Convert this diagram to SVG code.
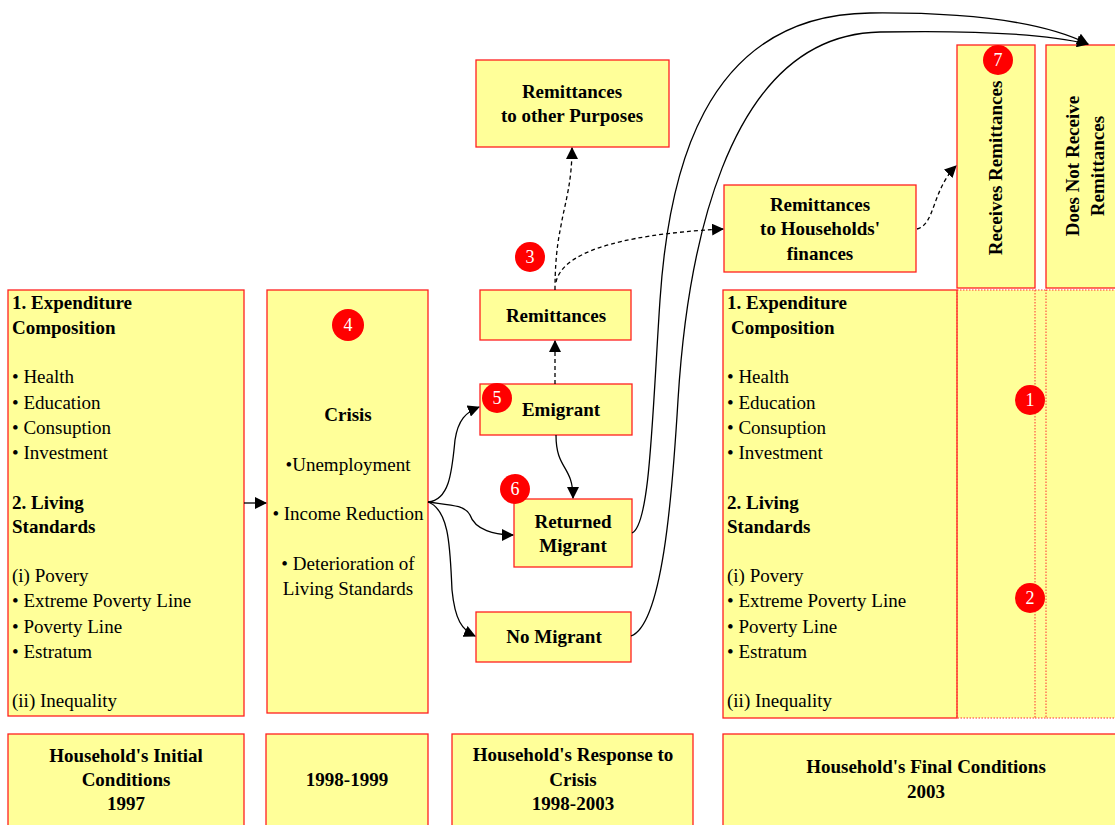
<svg xmlns="http://www.w3.org/2000/svg" width="1115" height="825" viewBox="0 0 1115 825">
<defs>
<marker id="ah" markerWidth="12" markerHeight="12" refX="11" refY="6" orient="auto" markerUnits="userSpaceOnUse">
<path d="M0,0 L12,6 L0,12 z" fill="#000"/>
</marker>
<style>
.box{fill:#FFFF99;stroke:#FF2020;stroke-width:1.3}
.dot{fill:none;stroke:#FF3030;stroke-width:1;stroke-dasharray:1.5,1.5}
.t{font-family:"Liberation Serif","Times New Roman",serif;font-size:19px;fill:#000}
.b{font-weight:bold}
.c{text-anchor:middle}
.badge circle{fill:#FF0000}
.badge text{font-family:"Liberation Serif",serif;font-size:18px;fill:#fff;text-anchor:middle}
.ln{fill:none;stroke:#000;stroke-width:1.3}
.dl{fill:none;stroke:#000;stroke-width:1.3;stroke-dasharray:4,3}
</style>
</defs>
<rect width="1115" height="825" fill="#fff"/>

<g id="initial">
<rect class="box" x="8" y="290" width="236" height="426"/>
<text class="t b" x="12" y="309">1. Expenditure</text>
<text class="t b" x="12" y="334">Composition</text>
<text class="t" x="12" y="383">• Health</text>
<text class="t" x="12" y="409">• Education</text>
<text class="t" x="12" y="434">• Consuption</text>
<text class="t" x="12" y="459">• Investment</text>
<text class="t b" x="12" y="509">2. Living</text>
<text class="t b" x="12" y="533">Standards</text>
<text class="t" x="12" y="582">(i) Povery</text>
<text class="t" x="12" y="607">• Extreme Poverty Line</text>
<text class="t" x="12" y="633">• Poverty Line</text>
<text class="t" x="12" y="658">• Estratum</text>
<text class="t" x="12" y="707">(ii) Inequality</text>
</g>

<g id="crisis">
<rect class="box" x="267" y="290" width="161" height="423"/>
<text class="t b c" x="348" y="421">Crisis</text>
<text class="t c" x="348" y="471">•Unemployment</text>
<text class="t c" x="348" y="520">• Income Reduction</text>
<text class="t c" x="348" y="570">• Deterioration of</text>
<text class="t c" x="348" y="595">Living Standards</text>
</g>

<g id="other-purposes">
<rect class="box" x="476" y="60" width="193" height="87"/>
<text class="t b c" x="572" y="98">Remittances</text>
<text class="t b c" x="572" y="122">to other Purposes</text>
</g>

<g id="households-finances">
<rect class="box" x="724" y="185" width="192" height="87"/>
<text class="t b c" x="820" y="211">Remittances</text>
<text class="t b c" x="820" y="235">to Households'</text>
<text class="t b c" x="820" y="260">finances</text>
</g>

<g id="remittances">
<rect class="box" x="480" y="290" width="151" height="50"/>
<text class="t b c" x="556" y="322">Remittances</text>
</g>

<g id="emigrant">
<rect class="box" x="480" y="384" width="152" height="51"/>
<text class="t b c" x="561" y="416">Emigrant</text>
</g>

<g id="returned">
<rect class="box" x="514" y="499" width="118" height="68"/>
<text class="t b c" x="573" y="528">Returned</text>
<text class="t b c" x="573" y="552">Migrant</text>
</g>

<g id="nomigrant">
<rect class="box" x="476" y="612" width="155" height="50"/>
<text class="t b c" x="554" y="643">No Migrant</text>
</g>

<g id="final">
<rect x="957" y="290" width="160" height="428" fill="#FFFF99"/>
<rect class="box" x="723" y="290" width="234" height="428"/>
<rect class="dot" x="957" y="290" width="78" height="428"/>
<rect class="dot" x="1046" y="290" width="75" height="428"/>
<line class="dot" x1="1035" y1="290" x2="1046" y2="290"/>
<line class="dot" x1="1035" y1="718" x2="1046" y2="718"/>
<text class="t b" x="727" y="309">1. Expenditure</text>
<text class="t b" x="731" y="334">Composition</text>
<text class="t" x="727" y="383">• Health</text>
<text class="t" x="727" y="409">• Education</text>
<text class="t" x="727" y="434">• Consuption</text>
<text class="t" x="727" y="459">• Investment</text>
<text class="t b" x="727" y="509">2. Living</text>
<text class="t b" x="727" y="533">Standards</text>
<text class="t" x="727" y="582">(i) Povery</text>
<text class="t" x="727" y="607">• Extreme Poverty Line</text>
<text class="t" x="727" y="633">• Poverty Line</text>
<text class="t" x="727" y="658">• Estratum</text>
<text class="t" x="727" y="707">(ii) Inequality</text>
</g>

<g id="receives">
<rect class="box" x="957" y="45" width="78" height="243"/>
<text class="t b c" transform="translate(1002,168) rotate(-90)">Receives Remittances</text>
</g>

<g id="notreceive">
<rect class="box" x="1046" y="45" width="75" height="243"/>
<text class="t b c" transform="translate(1079,166) rotate(-90)">Does Not Receive</text>
<text class="t b c" transform="translate(1104,166) rotate(-90)">Remittances</text>
</g>

<g id="label-initial">
<rect class="box" x="8" y="734" width="236" height="100"/>
<text class="t b c" x="126" y="762">Household's Initial</text>
<text class="t b c" x="126" y="786">Conditions</text>
<text class="t b c" x="126" y="810">1997</text>
</g>
<g id="label-crisis">
<rect class="box" x="266" y="734" width="162" height="100"/>
<text class="t b c" x="347" y="786">1998-1999</text>
</g>
<g id="label-response">
<rect class="box" x="452" y="734" width="241" height="100"/>
<text class="t b c" x="573" y="761">Household's Response to</text>
<text class="t b c" x="573" y="786">Crisis</text>
<text class="t b c" x="573" y="810">1998-2003</text>
</g>
<g id="label-final">
<rect class="box" x="723" y="734" width="400" height="100"/>
<text class="t b c" x="926" y="773">Household's Final Conditions</text>
<text class="t b c" x="926" y="798">2003</text>
</g>

<g id="connectors">
<path class="ln" d="M244,503 L266,503" marker-end="url(#ah)"/>
<path class="ln" d="M428,502 C450,500 452,470 455,440 C458,420 466,412 479,407" marker-end="url(#ah)"/>
<path class="ln" d="M428,502 C450,505 465,505 470,515 C475,530 495,535 513,535" marker-end="url(#ah)"/>
<path class="ln" d="M428,502 C450,510 450,550 452,590 C455,620 462,630 475,636" marker-end="url(#ah)"/>
<path class="ln" d="M556,435 C556,470 573,465 573,498" marker-end="url(#ah)"/>
<path class="dl" d="M555,384 L555,341" marker-end="url(#ah)"/>
<path class="dl" d="M555,290 C555,250 560,232 562,220 C566,200 572,180 572,148" marker-end="url(#ah)"/>
<path class="dl" d="M556,282 C562,255 610,235 723,229" marker-end="url(#ah)"/>
<path class="dl" d="M917,229 C935,225 932,190 956,166" marker-end="url(#ah)"/>
<path class="ln" d="M632,533 C650,525 652,420 660,300 C668,180 700,15 870,13 C980,12 1050,25 1088,44" marker-end="url(#ah)"/>
<path class="ln" d="M631,636 C662,625 672,500 678,400 C686,270 720,35 880,32 C980,30 1050,35 1088,44" marker-end="url(#ah)"/>
</g>

<g class="badge" id="b1"><circle cx="1030" cy="400" r="15"/><text x="1030" y="406">1</text></g>
<g class="badge" id="b2"><circle cx="1030" cy="598" r="15"/><text x="1030" y="604">2</text></g>
<g class="badge" id="b3"><circle cx="530" cy="257" r="15"/><text x="530" y="263">3</text></g>
<g class="badge" id="b4"><circle cx="348" cy="325" r="16"/><text x="348" y="331">4</text></g>
<g class="badge" id="b5"><circle cx="497" cy="398" r="15"/><text x="497" y="404">5</text></g>
<g class="badge" id="b6"><circle cx="515" cy="489" r="15"/><text x="515" y="495">6</text></g>
<g class="badge" id="b7"><circle cx="998" cy="60" r="15"/><text x="998" y="66">7</text></g>
</svg>
